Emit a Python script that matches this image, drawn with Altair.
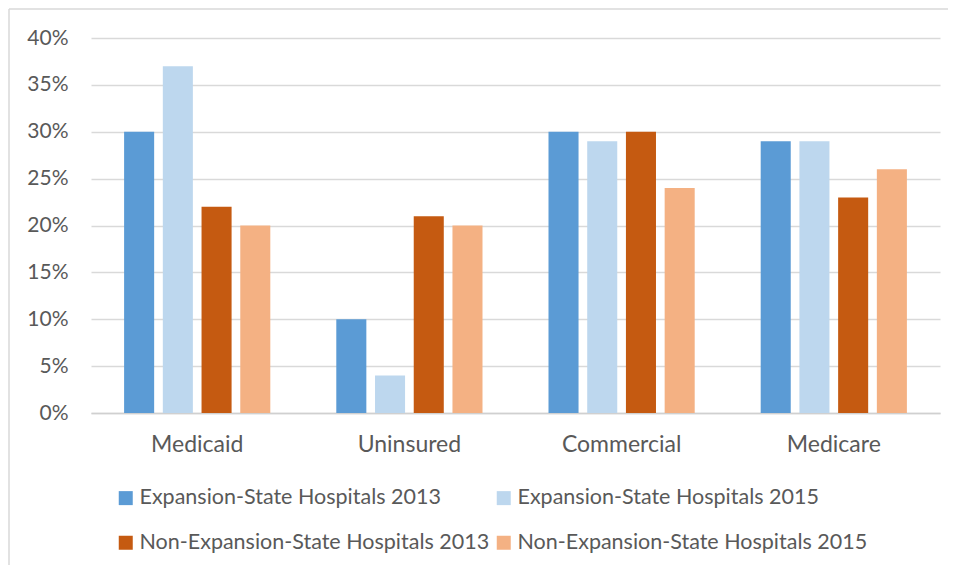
import altair as alt
import pandas as pd

categories = ["Medicaid", "Uninsured", "Commercial", "Medicare"]
series = [
    "Expansion-State Hospitals 2013",
    "Expansion-State Hospitals 2015",
    "Non-Expansion-State Hospitals 2013",
    "Non-Expansion-State Hospitals 2015",
]
exp_2013 = [0.30, 0.10, 0.30, 0.29]
exp_2015 = [0.37, 0.04, 0.29, 0.29]
nonexp_2013 = [0.22, 0.21, 0.30, 0.23]
nonexp_2015 = [0.20, 0.20, 0.24, 0.26]
colors = ["#5B9BD5", "#BDD7EE", "#C55A11", "#F4B183"]
y_ticks = [0.0, 0.05, 0.10, 0.15, 0.20, 0.25, 0.30, 0.35, 0.40]

rows = []
for s, vals in zip(series, [exp_2013, exp_2015, nonexp_2013, nonexp_2015]):
    for c, v in zip(categories, vals):
        rows.append({"category": c, "series": s, "value": v})
df = pd.DataFrame(rows)

FONT = "Lato"
TXT = "#595959"
GRID = "#d9d9d9"

bars = alt.Chart(df).mark_bar().encode(
    x=alt.X(
        "category:N",
        sort=categories,
        scale=alt.Scale(paddingInner=0.311, paddingOuter=0.156),
        axis=alt.Axis(
            title=None, labelAngle=0, ticks=False, labelPadding=20,
            domainColor="#d0d0d0", domainWidth=1.5, grid=False,
            labelFontSize=23, labelColor=TXT, labelFont=FONT,
        ),
    ),
    xOffset=alt.XOffset("series:N", sort=series, scale=alt.Scale(paddingInner=0.224)),
    y=alt.Y(
        "value:Q",
        scale=alt.Scale(domain=[0, 0.4], nice=False),
        axis=alt.Axis(
            values=y_ticks, format=".0%", title=None, ticks=False, domain=False,
            labelPadding=23, gridColor=GRID, gridWidth=1.5,
            labelFontSize=21, labelColor=TXT, labelFont=FONT,
        ),
    ),
    color=alt.Color(
        "series:N",
        sort=series,
        scale=alt.Scale(domain=series, range=colors),
        legend=alt.Legend(
            title=None, orient="none", legendX=24, legendY=449,
            direction="horizontal", columns=2, symbolType="square",
            symbolSize=196, symbolStrokeWidth=0, labelFontSize=21.5,
            labelColor=TXT, labelFont=FONT, labelOffset=3, labelLimit=600,
            columnPadding=3, rowPadding=22, padding=0,
        ),
    ),
)

frame_df = pd.DataFrame({"a": [0]})
top_line = alt.Chart(frame_df).mark_rule(color=GRID, strokeWidth=1.5).encode(
    x=alt.value(-82), x2=alt.value(870), y=alt.value(-29)
)
left_line = alt.Chart(frame_df).mark_rule(color=GRID, strokeWidth=1.5).encode(
    x=alt.value(-82), y=alt.value(-29), y2=alt.value(560)
)

chart = alt.layer(top_line, left_line, bars).properties(
    width=849,
    height=375,
    autosize=alt.AutoSizeParams(type="none"),
    padding={"left": 83, "top": 30, "right": 8, "bottom": 152},
    background="white",
).configure_view(stroke="transparent", strokeWidth=0)

chart.save("out.html", embed_options={"renderer": "svg", "actions": False})
